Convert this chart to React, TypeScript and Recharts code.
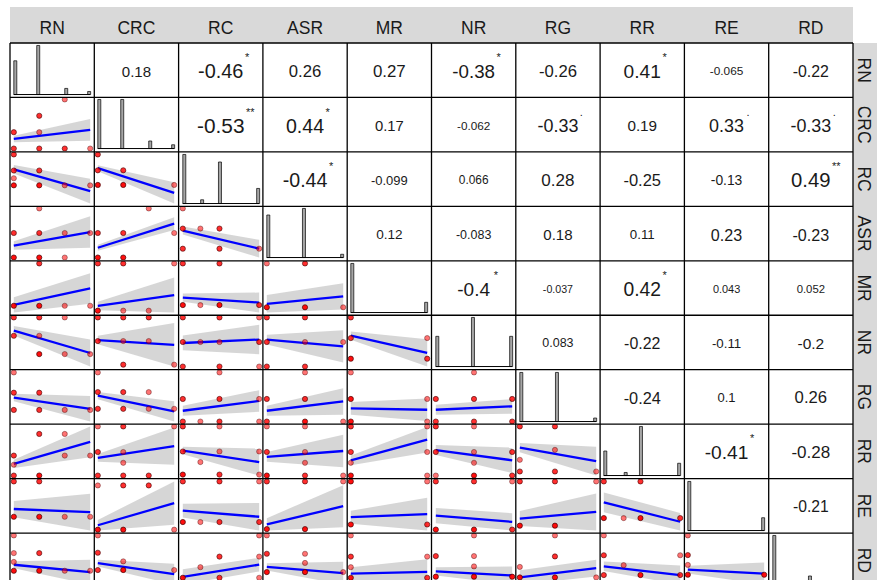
import React from "react";
import {
  Area,
  Bar,
  BarChart,
  ComposedChart,
  Line,
  ReferenceLine,
  Scatter,
  XAxis,
  YAxis,
} from "recharts";

const vars = ["RN", "CRC", "RC", "ASR", "MR", "NR", "RG", "RR", "RE", "RD"];

// distinct values of each variable (scaled to its own range)
const lvlRN = [0, 0.333, 0.667, 1];
const lvlCRC = [0, 0.333, 0.667, 1];
const lvlRC = [0, 0.23, 0.48, 1];
const lvlASR = [0, 0.5, 1];
const lvlMR = [0, 1];
const lvlNR = [0, 0.5, 1];
const lvlRG = [0, 0.46, 1];
const lvlRR = [0, 0.26, 0.48, 1];
const lvlRE = [0, 1];
const lvlRD = [0, 0.25, 0.5, 1];
const levels = [lvlRN, lvlCRC, lvlRC, lvlASR, lvlMR, lvlNR, lvlRG, lvlRR, lvlRE, lvlRD];

// diagonal histograms: [bin (of 30), count]
const histRN = [[0, 11], [9, 16], [20, 2], [29, 1]];
const histCRC = [[0, 13], [9, 13], [20, 2], [29, 1]];
const histRC = [[0, 13], [7, 1], [14, 11], [29, 4]];
const histASR = [[0, 13], [14, 15], [29, 1]];
const histMR = [[0, 24], [29, 5]];
const histNR = [[0, 8], [14, 13], [29, 8]];
const histRG = [[0, 14], [14, 14], [29, 1]];
const histRR = [[0, 8], [8, 1], [14, 16], [29, 4]];
const histRE = [[0, 23], [29, 6]];
const histRD = [[0, 23], [7, 1], [14, 4], [29, 1]];
const hists = [histRN, histCRC, histRC, histASR, histMR, histNR, histRG, histRR, histRE, histRD];

// upper triangle: correlation and significance per row
const corRN = [0.18, -0.46, 0.26, 0.27, -0.38, -0.26, 0.41, -0.065, -0.22];
const corCRC = [-0.53, 0.44, 0.17, -0.062, -0.33, 0.19, 0.33, -0.33];
const corRC = [-0.44, -0.099, 0.066, 0.28, -0.25, -0.13, 0.49];
const corASR = [0.12, -0.083, 0.18, 0.11, 0.23, -0.23];
const corMR = [-0.4, -0.037, 0.42, 0.043, 0.052];
const corNR = [0.083, -0.22, -0.11, -0.2];
const corRG = [-0.24, 0.1, 0.26];
const corRR = [-0.41, -0.28];
const corRE = [-0.21];
const cors = [corRN, corCRC, corRC, corASR, corMR, corNR, corRG, corRR, corRE];

const sigRN = ["", "*", "", "", "*", "", "*", "", ""];
const sigCRC = ["**", "*", "", "", ".", "", ".", "."];
const sigRC = ["*", "", "", "", "", "", "**"];
const sigASR = ["", "", "", "", "", ""];
const sigMR = ["*", "", "*", "", ""];
const sigNR = ["", "", "", ""];
const sigRG = ["", "", ""];
const sigRR = ["*", ""];
const sigRE = [""];
const sigs = [sigRN, sigCRC, sigRC, sigASR, sigMR, sigNR, sigRG, sigRR, sigRE];

// lower triangle points: [x level, y level, overlapping count], one list per column
const ptsCRC = [
  [[0, 1, 2], [1, 2, 2], [2, 3, 1], [1, 1, 1], [0, 0, 2], [1, 0, 2], [2, 0, 2], [3, 0, 1]],
];
const ptsRC = [
  [[0, 3, 2], [0, 2, 2], [1, 2, 2], [0, 1, 1], [0, 0, 3], [1, 0, 3], [2, 0, 1], [3, 0, 1]],
  [[0, 3, 2], [0, 2, 2], [1, 2, 2], [0, 0, 3], [1, 0, 3], [3, 0, 1]],
];
const ptsASR = [
  [[1, 2, 1], [0, 1, 2], [1, 1, 2], [2, 1, 1], [3, 1, 1], [0, 0, 3], [1, 0, 3], [2, 0, 1]],
  [[2, 2, 1], [0, 1, 2], [1, 1, 2], [3, 1, 1], [0, 0, 3], [1, 0, 3]],
  [[0, 2, 1], [0, 1, 2], [1, 1, 1], [2, 1, 2], [0, 0, 2], [2, 0, 2], [3, 0, 1]],
];
const ptsMR = [
  [[1, 1, 2], [0, 0, 3], [1, 0, 3], [2, 0, 1], [3, 0, 1]],
  [[0, 1, 2], [1, 1, 2], [3, 1, 1], [0, 0, 3], [1, 0, 1], [2, 0, 1]],
  [[0, 1, 2], [2, 1, 2], [0, 0, 3], [1, 0, 1], [2, 0, 3], [3, 0, 2]],
  [[0, 1, 1], [1, 1, 2], [0, 0, 3], [1, 0, 3], [2, 0, 1]],
];
const ptsNR = [
  [[0, 2, 2], [1, 2, 2], [2, 2, 1], [0, 1, 2], [1, 1, 1], [1, 0, 3], [2, 0, 1], [3, 0, 1]],
  [[0, 2, 2], [1, 2, 2], [2, 2, 2], [0, 1, 2], [1, 1, 1], [2, 1, 1], [1, 0, 2], [3, 0, 1]],
  [[0, 2, 2], [2, 2, 2], [3, 2, 1], [0, 1, 2], [1, 1, 1], [2, 1, 1], [3, 1, 2], [0, 0, 2], [2, 0, 2], [3, 0, 1]],
  [[0, 2, 2], [1, 2, 2], [0, 1, 2], [1, 1, 1], [2, 1, 1], [0, 0, 2], [1, 0, 2]],
  [[0, 2, 2], [0, 1, 2], [1, 1, 1], [0, 0, 3], [1, 0, 2]],
];
const ptsRG = [
  [[0, 2, 1], [0, 1, 2], [1, 1, 2], [0, 0, 2], [1, 0, 2], [2, 0, 1], [3, 0, 1]],
  [[0, 2, 1], [0, 1, 2], [1, 1, 2], [2, 1, 1], [0, 0, 2], [1, 0, 2], [2, 0, 1], [3, 0, 1]],
  [[2, 2, 1], [0, 1, 2], [2, 1, 2], [3, 1, 1], [0, 0, 2], [1, 0, 1], [2, 0, 2], [3, 0, 1]],
  [[1, 2, 1], [0, 1, 2], [1, 1, 2], [0, 0, 2], [1, 0, 3], [2, 0, 1]],
  [[0, 2, 1], [0, 1, 3], [1, 1, 1], [0, 0, 3], [1, 0, 1]],
  [[1, 2, 1], [0, 1, 2], [1, 1, 2], [2, 1, 2], [0, 0, 2], [1, 0, 2], [2, 0, 2]],
];
const ptsRR = [
  [[1, 3, 2], [2, 3, 1], [0, 2, 2], [2, 2, 1], [3, 2, 1], [0, 1, 1], [0, 0, 2], [1, 0, 3]],
  [[0, 3, 1], [1, 3, 2], [3, 3, 1], [0, 2, 2], [1, 2, 1], [1, 1, 1], [0, 0, 2], [1, 0, 2], [2, 0, 2]],
  [[0, 3, 2], [2, 3, 1], [0, 2, 2], [2, 2, 1], [3, 2, 1], [1, 1, 1], [0, 0, 3], [2, 0, 2], [3, 0, 1]],
  [[0, 3, 1], [1, 3, 1], [0, 2, 2], [1, 2, 1], [1, 1, 1], [0, 0, 3], [1, 0, 2], [2, 0, 1]],
  [[0, 3, 2], [1, 3, 1], [0, 2, 2], [1, 2, 1], [0, 1, 1], [0, 0, 3], [1, 0, 1]],
  [[0, 3, 2], [1, 3, 1], [0, 2, 2], [1, 2, 1], [2, 2, 2], [1, 1, 1], [0, 0, 1], [1, 0, 3], [2, 0, 2]],
  [[0, 3, 2], [1, 3, 2], [1, 2, 1], [0, 1, 1], [0, 0, 2], [1, 0, 2], [2, 0, 1]],
];
const ptsRE = [
  [[0, 1, 2], [1, 1, 2], [0, 0, 3], [1, 0, 3], [2, 0, 1], [3, 0, 1]],
  [[0, 1, 1], [1, 1, 2], [2, 1, 2], [0, 0, 3], [1, 0, 3], [3, 0, 1]],
  [[0, 1, 2], [2, 1, 2], [3, 1, 1], [0, 0, 3], [1, 0, 1], [2, 0, 2], [3, 0, 2]],
  [[0, 1, 2], [1, 1, 2], [2, 1, 1], [0, 0, 3], [1, 0, 3]],
  [[0, 1, 3], [1, 1, 1], [0, 0, 3], [1, 0, 2]],
  [[0, 1, 2], [1, 1, 2], [2, 1, 1], [0, 0, 3], [1, 0, 3], [2, 0, 2]],
  [[0, 1, 2], [1, 1, 2], [2, 1, 1], [0, 0, 3], [1, 0, 3]],
  [[0, 1, 2], [2, 1, 2], [0, 0, 3], [1, 0, 1], [2, 0, 3], [3, 0, 2]],
];
const ptsRD = [
  [[0, 3, 1], [0, 2, 1], [1, 2, 2], [0, 1, 1], [0, 0, 3], [1, 0, 3], [2, 0, 1], [3, 0, 1]],
  [[0, 3, 1], [0, 2, 2], [1, 1, 1], [0, 0, 2], [1, 0, 3], [3, 0, 1]],
  [[3, 3, 1], [2, 2, 2], [3, 2, 1], [1, 1, 1], [0, 0, 3], [2, 0, 2], [3, 0, 1]],
  [[0, 3, 1], [0, 2, 2], [1, 2, 1], [1, 1, 1], [0, 0, 3], [1, 0, 3], [2, 0, 1]],
  [[0, 3, 1], [0, 2, 2], [1, 2, 1], [0, 1, 1], [0, 0, 3], [1, 0, 2]],
  [[1, 3, 1], [0, 2, 2], [1, 2, 1], [1, 1, 1], [0, 0, 3], [1, 0, 3], [2, 0, 3]],
  [[1, 3, 1], [1, 2, 2], [0, 1, 1], [0, 0, 3], [1, 0, 3], [2, 0, 1]],
  [[0, 3, 1], [0, 2, 2], [1, 1, 1], [0, 0, 2], [2, 0, 3], [3, 2, 1], [3, 0, 2]],
  [[0, 3, 1], [0, 2, 2], [0, 1, 1], [0, 0, 3], [1, 0, 3]],
];
const pts = [[], ptsCRC, ptsRC, ptsASR, ptsMR, ptsNR, ptsRG, ptsRR, ptsRE, ptsRD];

// lm fit per lower cell: [fit at x min, fit at x max, band half-width at min, at max]
const fitCRC = [[0.195, 0.38, 0.066, 0.22]];
const fitRC = [[0.52, -0.19, 0.14, 0.4], [0.55, -0.26, 0.1, 0.35]];
const fitASR = [[0.245, 0.52, 0.085, 0.32], [0.2, 0.69, 0.06, 0.13], [0.45, 0, 0.1, 0.22]];
const fitMR = [[0.02, 0.41, 0.18, 0.36], [0.1, 0.33, 0.09, 0.37], [0.18, 0.06, 0.1, 0.24], [0.08, 0.25, 0.2, 0.3]];
const fitNR = [[0.64, 0.03, 0.13, 0.37], [0.52, 0.42, 0.09, 0.46], [0.48, 0.55, 0.15, 0.3], [0.55, 0.41, 0.1, 0.33], [0.56, 0.14, 0.1, 0.33]];
const fitRG = [[0.33, 0.03, 0.1, 0.34], [0.36, -0.07, 0.1, 0.28], [0.22, 0.42, 0.1, 0.22], [0.22, 0.41, 0.1, 0.27], [0.27, 0.24, 0.13, 0.23], [0.24, 0.31, 0.1, 0.15]];
const fitRR = [[0.28, 0.81, 0.1, 0.37], [0.36, 0.6, 0.08, 0.38], [0.5, 0.26, 0.08, 0.28], [0.38, 0.5, 0.1, 0.33], [0.31, 0.73, 0.1, 0.26], [0.52, 0.31, 0.1, 0.26], [0.53, 0.23, 0.1, 0.32]];
const fitRE = [[0.22, 0.13, 0.23, 0.52], [0.1, 0.6, 0.12, 0.49], [0.28, 0.13, 0.17, 0.34], [0.1, 0.48, 0.13, 0.44], [0.17, 0.24, 0.15, 0.38], [0.29, 0.16, 0.16, 0.18], [0.16, 0.31, 0.17, 0.42], [0.43, -0.1, 0.27, 0.24]];
const fitRD = [[0.17, -0.04, 0.1, 0.35], [0.2, -0.12, 0.1, 0.3], [0.02, 0.31, 0.18, 0.16], [0.14, -0.03, 0.1, 0.31], [0.1, 0.14, 0.15, 0.3], [0.13, 0.03, 0.1, 0.22], [0, 0.22, 0.17, 0.2], [0.22, 0, 0.12, 0.24], [0.13, 0.03, 0.1, 0.28]];
const fits = [[], fitCRC, fitRC, fitASR, fitMR, fitNR, fitRG, fitRR, fitRE, fitRD];

const LEFT = 10;
const TOP = 43;
const CW = 84.3;
const RH = 54.45;
const W = 84;
const H = 54;
const FONT = "'Liberation Sans', Arial, sans-serif";

function Dot(props: any) {
  const { cx, cy, payload } = props;
  const a = payload.n >= 3 ? 0.95 : payload.n === 2 ? 0.82 : 0.55;
  return (
    <circle cx={cx} cy={cy} r={2.6} fill="#ff0000" fillOpacity={a} stroke="#3a0000" strokeOpacity={a} strokeWidth={0.7} />
  );
}

function LowerCell({ row, col }: { row: number; col: number }) {
  const f = fits[row][col];
  const xl = levels[col];
  const yl = levels[row];
  const data = [
    { x: 0, fit: f[0], band: [f[0] - f[2], f[0] + f[2]] },
    { x: 1, fit: f[1], band: [f[1] - f[3], f[1] + f[3]] },
  ];
  const lo = Math.min(0, data[0].band[0], data[1].band[0]);
  const hi = Math.max(1, data[0].band[1], data[1].band[1]);
  const pad = (hi - lo) * 0.05;
  const sc = pts[row][col].map(([xi, yi, n]) => ({ x: xl[xi], y: yl[yi], n }));
  return (
    <ComposedChart width={W} height={H} data={data} margin={{ top: 0, right: 0, bottom: 0, left: 0 }}>
      <XAxis dataKey="x" type="number" domain={[-0.05, 1.05]} allowDataOverflow hide />
      <YAxis dataKey="y" type="number" domain={[lo - pad, hi + pad]} allowDataOverflow hide />
      <Scatter data={sc} shape={Dot} isAnimationActive={false} />
      <Area dataKey="band" type="linear" stroke="none" fill="#999999" fillOpacity={0.4} isAnimationActive={false} />
      <Line dataKey="fit" type="linear" stroke="#0000ff" strokeWidth={2.3} dot={false} isAnimationActive={false} />
    </ComposedChart>
  );
}

function DiagCell({ idx }: { idx: number }) {
  const hist = hists[idx];
  const data = Array.from({ length: 30 }, (_, i) => {
    const hit = hist.find((h) => h[0] === i);
    return { bin: i, count: hit ? hit[1] : 0 };
  });
  const max = Math.max(...hist.map((h) => h[1]));
  return (
    <BarChart width={W} height={H} data={data} margin={{ top: 0, right: 3.8, bottom: 0, left: 3.8 }} barCategoryGap={0} barGap={0}>
      <XAxis dataKey="bin" hide />
      <YAxis type="number" domain={[-max * 0.05, max * 1.05]} allowDataOverflow hide />
      <ReferenceLine y={0} stroke="#000" strokeWidth={1} />
      <Bar dataKey="count" fill="#a6a6a6" stroke="#000" strokeWidth={0.7} isAnimationActive={false} />
    </BarChart>
  );
}

// rough advance width of a number label in Liberation Sans
function textWidth(s: string, fs: number) {
  let w = 0;
  for (const ch of s) w += ch === "." ? 0.278 : ch === "-" ? 0.333 : 0.556;
  return w * fs;
}

export default function App() {
  const cells: React.ReactNode[] = [];
  const texts: React.ReactNode[] = [];
  for (let r = 0; r < 10; r++) {
    for (let c = 0; c < 10; c++) {
      const left = LEFT + c * CW;
      const top = TOP + r * RH;
      if (r === c) {
        cells.push(
          <div key={`d${r}`} style={{ position: "absolute", left, top, width: W, height: H }}>
            <DiagCell idx={r} />
          </div>
        );
      } else if (r > c) {
        cells.push(
          <div key={`l${r}-${c}`} style={{ position: "absolute", left, top, width: W, height: H, overflow: "hidden" }}>
            <LowerCell row={r} col={c} />
          </div>
        );
      } else {
        const v = cors[r][c - r - 1];
        const s = sigs[r][c - r - 1];
        const label = String(v);
        const fs = 7 + 19 * Math.sqrt(Math.abs(v));
        const cx = left + CW / 2;
        const cy = top + RH / 2 + 1;
        texts.push(
          <text key={`t${r}-${c}`} x={cx} y={cy} fontSize={fs} textAnchor="middle" dominantBaseline="central" fill="#1a1a1a" fontFamily={FONT}>
            {label}
          </text>
        );
        if (s) {
          const sx = cx + Math.max(20, textWidth(label, fs) / 2 + 1.5);
          texts.push(
            <text key={`s${r}-${c}`} x={sx} y={cy - 10} fontSize={11} textAnchor="start" fill="#1a1a1a" fontFamily={FONT}>
              {s}
            </text>
          );
        }
      }
    }
  }

  const gridRight = LEFT + 10 * CW;
  return (
    <div style={{ position: "absolute", left: 0, top: 0, width: 877, height: 580, background: "#fff", overflow: "hidden" }}>
      {cells}
      <svg width={877} height={580} style={{ position: "absolute", left: 0, top: 0, pointerEvents: "none" }}>
        <rect x={LEFT} y={7} width={10 * CW} height={TOP - 7} fill="#d9d9d9" />
        <rect x={gridRight} y={TOP} width={877 - gridRight} height={580 - TOP} fill="#d9d9d9" />
        {vars.map((v, i) => (
          <text key={`h${v}`} x={LEFT + i * CW + CW / 2} y={28} fontSize={17.5} textAnchor="middle" dominantBaseline="central" fill="#1a1a1a" fontFamily={FONT}>
            {v}
          </text>
        ))}
        {vars.map((v, i) => (
          <text
            key={`v${v}`}
            x={0}
            y={0}
            fontSize={17.5}
            textAnchor="middle"
            dominantBaseline="central"
            fill="#1a1a1a"
            fontFamily={FONT}
            transform={`translate(${gridRight + 10.5}, ${TOP + i * RH + RH / 2}) rotate(90)`}
          >
            {v}
          </text>
        ))}
        {texts}
        {Array.from({ length: 11 }, (_, i) => (
          <line key={`gv${i}`} x1={LEFT + i * CW} x2={LEFT + i * CW} y1={TOP} y2={580} stroke="#000" strokeWidth={1.3} />
        ))}
        {Array.from({ length: 11 }, (_, i) => (
          <line key={`gh${i}`} x1={LEFT} x2={gridRight} y1={TOP + i * RH} y2={TOP + i * RH} stroke="#000" strokeWidth={1.3} />
        ))}
      </svg>
    </div>
  );
}
